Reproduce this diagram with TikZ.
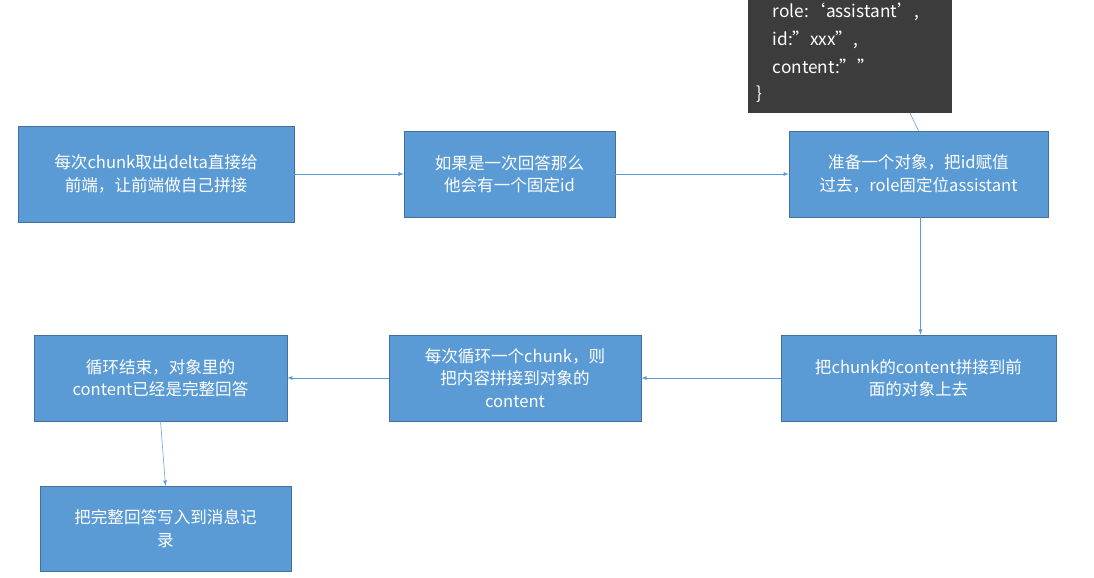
\documentclass[tikz,border=0pt]{standalone}
\usepackage{fontspec}
\setmainfont{Noto Sans CJK SC}
\definecolor{boxblue}{HTML}{5B9BD5}
\definecolor{boxline}{HTML}{41719C}
\definecolor{codebg}{HTML}{3C3C3C}
\tikzset{
  stepbox/.style={draw=boxline, fill=boxblue, text=white, align=center, inner sep=0pt,
    font=\fontsize{12.5}{17}\selectfont},
  flow/.style={draw=boxblue, thin, -latex},
}
\begin{document}
\begin{tikzpicture}[x=0.0265cm, y=-0.0265cm]
  \useasboundingbox (0,0) rectangle (1094,578);

  % code box
  \fill[codebg] (748,-5) rectangle (952,113);
  \node[anchor=west, text=white, font=\fontsize{13}{16}\selectfont] (r1) at (768,12) {role:‘assistant’,};
  \node[anchor=west, text=white, font=\fontsize{13}{16}\selectfont] (r2) at (768,40) {id:”xxx”,};
  \node[anchor=west, text=white, font=\fontsize{13}{16}\selectfont] (r3) at (768,66) {content:””};
  \node[anchor=west, text=white, font=\fontsize{13}{16}\selectfont] (r4) at (752,94) {\}};
  \coordinate (code) at (910,113);

  \node[stepbox, minimum width=7.31cm, minimum height=2.54cm] (chunk) at (156,174)
    {每次chunk取出delta直接给\\前端，让前端做自己拼接};
  \node[stepbox, minimum width=5.59cm, minimum height=2.28cm] (fixid) at (509.5,174)
    {如果是一次回答那么\\他会有一个固定id};
  \node[stepbox, minimum width=6.86cm, minimum height=2.28cm] (obj) at (918.5,174)
    {准备一个对象，把id赋值\\过去，role固定位assistant};
  \node[stepbox, minimum width=7.29cm, minimum height=2.28cm] (join) at (918.5,378)
    {把chunk的content拼接到前\\面的对象上去};
  \node[stepbox, minimum width=6.68cm, minimum height=2.28cm] (loop) at (515,378)
    {每次循环一个chunk，则\\把内容拼接到对象的\\content};
  \node[stepbox, minimum width=6.70cm, minimum height=2.28cm] (done) at (160.5,378)
    {循环结束，对象里的\\content已经是完整回答};
  \node[stepbox, minimum width=6.65cm, minimum height=2.25cm] (save) at (165.5,528.5)
    {把完整回答写入到消息记\\录};

  \draw[flow] (chunk) -- (fixid);
  \draw[flow] (fixid) -- (obj);
  \draw[flow] (obj.south) ++(2,0) coordinate (o1) -- (o1 |- join.north);
  \draw[flow] (join) -- (loop);
  \draw[flow] (loop) -- (done);
  \draw[flow] (done.south) -- (save.north);
  \draw[draw=boxblue, thin] (obj.north) -- (code);
\end{tikzpicture}
\end{document}
